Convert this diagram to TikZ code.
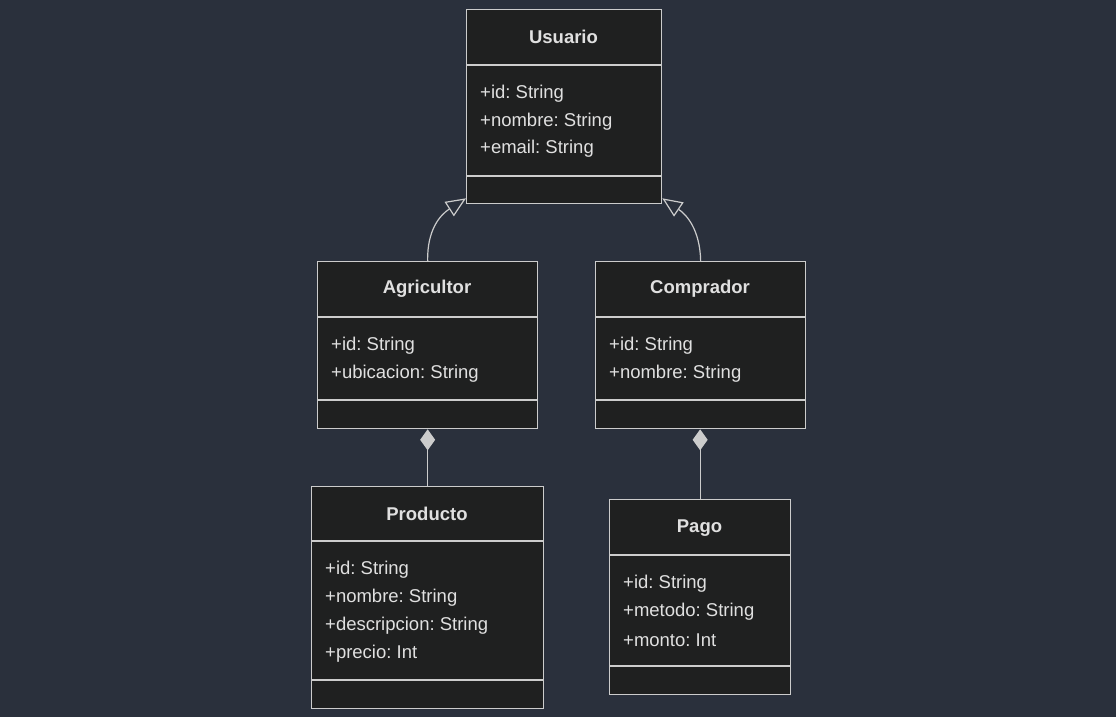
\documentclass[tikz,border=0pt]{standalone}
\usepackage{fontspec}
\setmainfont{Liberation Sans}
\usetikzlibrary{arrows.meta,calc}
\definecolor{bg}{HTML}{2A303C}
\definecolor{boxfill}{HTML}{1F2020}
\definecolor{edge}{HTML}{CCCCCC}
\definecolor{txt}{HTML}{E0E0E0}
\frenchspacing
\tikzset{
  umlbox/.style={draw=edge, fill=boxfill, line width=1.3pt, inner sep=0pt, anchor=north west},
  divider/.style={draw=edge, line width=1.3pt},
  title/.style={text=txt, font=\fontsize{18.5}{22}\selectfont\bfseries\frenchspacing, inner sep=0pt},
  attr/.style={text=txt, font=\fontsize{18.5}{22}\selectfont\frenchspacing, inner sep=0pt, anchor=west},
  inherit/.style={draw=edge, line width=1.2pt, -{Triangle[open, length=20pt, width=17pt, fill=bg]}},
  compose/.style={draw=edge, line width=1.2pt, {Diamond[length=21pt, width=15pt, fill=edge]}-}
}
\begin{document}
\begin{tikzpicture}[x=1pt, y=-1pt]
\useasboundingbox (0,0) rectangle (1116,717);
\fill[bg] (0,0) rectangle (1116,717);

% Usuario
\node[umlbox, minimum width=195pt, minimum height=194pt] (usu) at (466,9) {};
\draw[divider] (466,65) -- (661,65);
\draw[divider] (466,176) -- (661,176);
\node[title] (usuT) at (563.5,37) {Usuario};
\node[attr] (usuA1) at (480,94) {+id: String};
\node[attr] (usuA2) at (480,122) {+nombre: String};
\node[attr] (usuA3) at (480,149) {+email: String};

% Agricultor
\node[umlbox, minimum width=220pt, minimum height=167pt] (agr) at (317,261) {};
\draw[divider] (317,317) -- (537,317);
\draw[divider] (317,400) -- (537,400);
\node[title] (agrT) at (427,289) {Agricultor};
\node[attr] (agrA1) at (331,346) {+id: String};
\node[attr] (agrA2) at (331,374) {+ubicacion: String};

% Comprador
\node[umlbox, minimum width=210pt, minimum height=167pt] (com) at (595,261) {};
\draw[divider] (595,317) -- (805,317);
\draw[divider] (595,400) -- (805,400);
\node[title] (comT) at (700,289) {Comprador};
\node[attr] (comA1) at (609,346) {+id: String};
\node[attr] (comA2) at (609,374) {+nombre: String};

% Producto
\node[umlbox, minimum width=232pt, minimum height=222pt] (pro) at (311,486) {};
\draw[divider] (311,541) -- (543,541);
\draw[divider] (311,680) -- (543,680);
\node[title] (proT) at (427,514) {Producto};
\node[attr] (proA1) at (325,570) {+id: String};
\node[attr] (proA2) at (325,598) {+nombre: String};
\node[attr] (proA3) at (325,626) {+descripcion: String};
\node[attr] (proA4) at (325,654) {+precio: Int};

% Pago
\node[umlbox, minimum width=181pt, minimum height=195pt] (pag) at (609,499) {};
\draw[divider] (609,555) -- (790,555);
\draw[divider] (609,666) -- (790,666);
\node[title] (pagT) at (699.5,528) {Pago};
\node[attr] (pagA1) at (623,584) {+id: String};
\node[attr] (pagA2) at (623,612) {+metodo: String};
\node[attr] (pagA3) at (623,640) {+monto: Int};

% connectors
\coordinate (usuL) at ($(usu.south west)+(0,-6)$);
\coordinate (usuR) at ($(usu.south east)+(0,-6)$);
\draw[inherit] (agr.north) .. controls (427,230) and (440,215) .. (usuL);
\draw[inherit] (com.north) .. controls (700,230) and (687,215) .. (usuR);
\draw[compose] (agr.south) -- (pro.north);
\draw[compose] ($(com.south)+(-0.5,0)$) -- ($(pag.north)$);
\end{tikzpicture}
\end{document}
